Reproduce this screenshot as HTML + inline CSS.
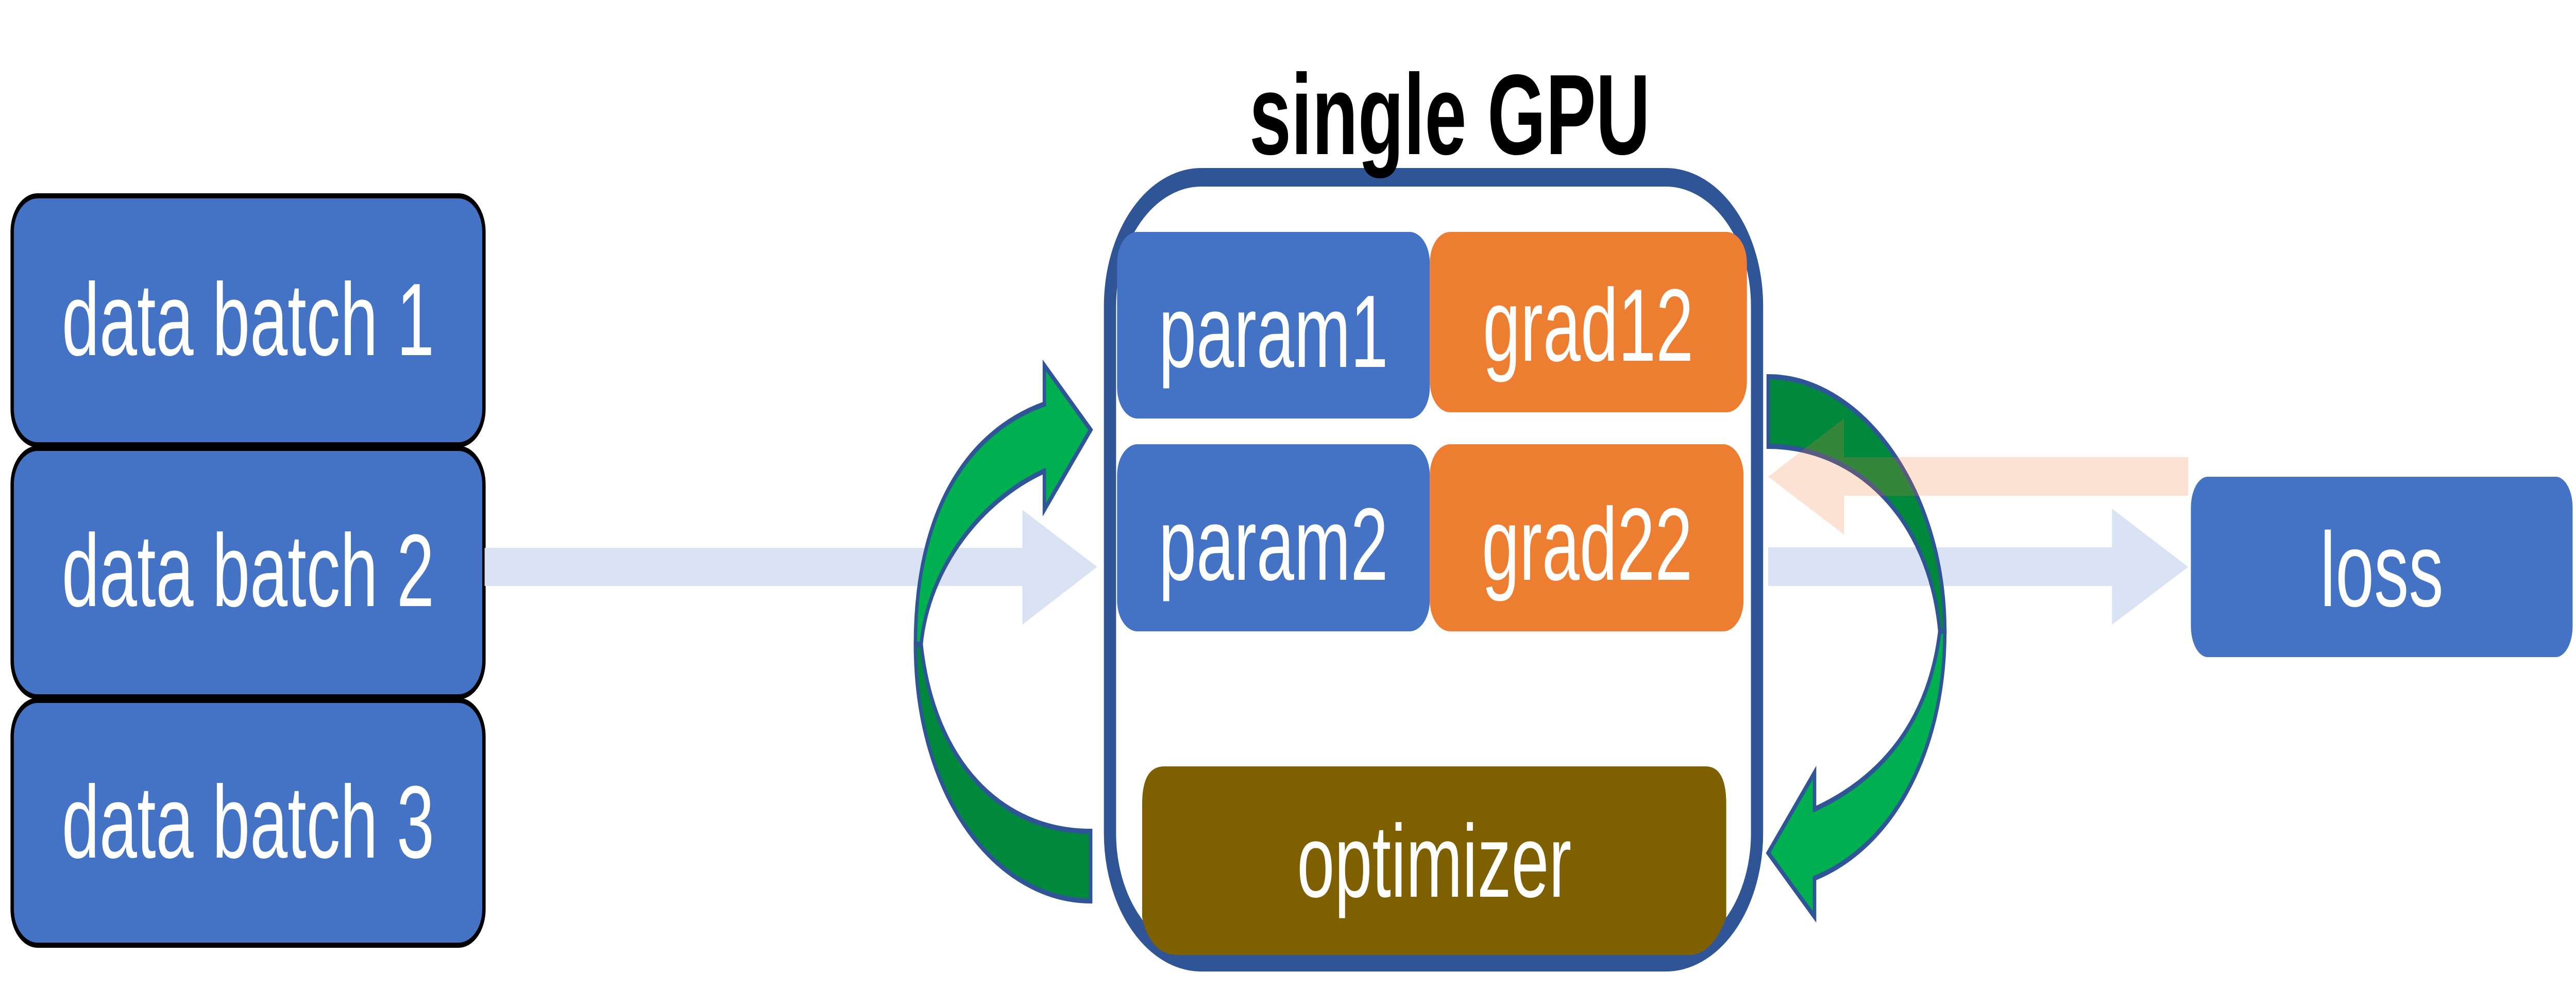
<!DOCTYPE html>
<html><head><meta charset="utf-8"><style>
html,body{margin:0;padding:0;background:#fff;width:100%;height:100%;overflow:hidden;}
svg{display:block;width:100vw;height:100vh;}
text{font-family:"Liberation Sans",sans-serif;}
</style></head><body>
<svg viewBox="0 0 7612 1950" preserveAspectRatio="none" xmlns="http://www.w3.org/2000/svg">
<!-- data batches -->
<g stroke="#000" stroke-width="10" fill="#4472C4">
<rect x="36" y="380" width="1394" height="483" rx="75" ry="70"/>
<rect x="36" y="870" width="1394" height="482" rx="75" ry="70"/>
<rect x="36" y="1359" width="1394" height="475" rx="75" ry="70"/>
</g>
<g fill="#fff" font-size="200" text-anchor="middle">
<text x="733" y="689">data batch 1</text>
<text x="733" y="1176">data batch 2</text>
<text x="733" y="1664">data batch 3</text>
</g>
<!-- left light-blue arrow -->
<polygon points="1432,1063 3021,1063 3021,989 3242,1100 3021,1212 3021,1137 1432,1137" fill="#DAE3F3"/>
<!-- right light-blue arrow -->
<polygon points="5225,1062 6241,1062 6241,987 6466,1100 6241,1212 6241,1137 5225,1137" fill="#DAE3F3"/>
<!-- GPU container -->
<rect x="3280" y="344" width="1912" height="1523" rx="270" ry="250" fill="#fff" stroke="#2F5597" stroke-width="36"/>
<text x="4284" y="299" font-size="222" font-weight="bold" text-anchor="middle" fill="#000">single GPU</text>
<rect x="3301" y="450" width="924" height="362" rx="60" ry="60" fill="#4472C4"/>
<rect x="4225" y="450" width="937" height="350" rx="60" ry="60" fill="#ED7D31"/>
<rect x="3301" y="862" width="924" height="363" rx="60" ry="60" fill="#4472C4"/>
<rect x="4225" y="862" width="927" height="363" rx="60" ry="60" fill="#ED7D31"/>
<g fill="#fff" font-size="200" text-anchor="middle">
<text x="3763" y="712">param1</text>
<text x="4693" y="700">grad12</text>
<text x="3763" y="1125">param2</text>
<text x="4690" y="1125">grad22</text>
</g>
<path d="M3440,1487 H5040 Q5101,1487 5101,1560 V1780 Q5060,1853 4990,1853 H3480 Q3400,1853 3375,1780 V1560 Q3375,1487 3440,1487 Z" fill="#7F6000"/>
<text x="4238" y="1740" font-size="200" fill="#fff" text-anchor="middle">optimizer</text>
<!-- green curved arrows -->
<g stroke="#2F5597" stroke-width="10" stroke-linejoin="miter">
<path d="M3223,1748 C2950,1748 2705,1550 2705,1250 L2722,1250 C2760,1480 2960,1613 3223,1613 Z" fill="#00893D"/>
<path d="M2705,1250 C2705,1000 2850,840 3086,784 L3086,709 L3223,834 L3086,989 L3086,914 C2900,970 2745,1100 2722,1250 Z" fill="#00B050"/>
<path d="M5225,731 C5500,731 5747,950 5747,1225 L5732,1225 C5700,1000 5480,866 5225,866 Z" fill="#00893D"/>
<path d="M5747,1225 C5747,1450 5600,1640 5362,1704 L5362,1779 L5225,1655 L5362,1499 L5362,1570 C5560,1510 5700,1400 5732,1225 Z" fill="#00B050"/>
</g>
<!-- faded orange arrow -->
<polygon points="6466,887 5449,887 5449,812 5225,925 5449,1037 5449,962 6466,962" fill="#ED7D31" opacity="0.22"/>
<!-- loss -->
<rect x="6474" y="925" width="1128" height="350" rx="50" ry="60" fill="#4472C4"/>
<text x="7038" y="1176" font-size="205" fill="#fff" text-anchor="middle">loss</text>
</svg>
</body></html>
